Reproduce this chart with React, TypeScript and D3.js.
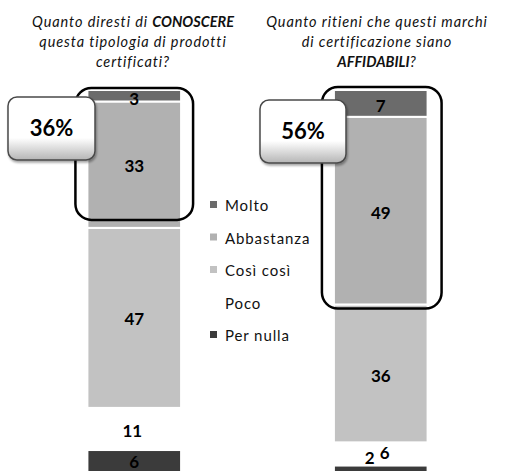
import React from "react";
import * as d3 from "d3";

const categories = ["Conoscenza", "Affidabilità"];
const seriesNames = ["Molto", "Abbastanza", "Così così", "Poco", "Per nulla"];
const molto = [3, 7];
const abbastanza = [33, 49];
const cosiCosi = [47, 36];
const poco = [11, 6];
const perNulla = [6, 2];
const highlightPct = ["36%", "56%"];
const titlesLeft = [
  [{ t: "Quanto diresti di ", b: false }, { t: "CONOSCERE", b: true }],
  [{ t: "questa tipologia di prodotti", b: false }],
  [{ t: "certificati?", b: false }],
];
const titlesRight = [
  [{ t: "Quanto ritieni che questi marchi", b: false }],
  [{ t: "di certificazione siano", b: false }],
  [{ t: "AFFIDABILI", b: true }, { t: "?", b: false }],
];

const colors: Record<string, string> = {
  Molto: "#6b6b6b",
  Abbastanza: "#b1b1b1",
  "Così così": "#c2c2c2",
  Poco: "#ffffff",
  "Per nulla": "#3b3b3b",
};

const W = 517;
const H = 471;
const FONT = "Lato, 'Open Sans', sans-serif";

export default function App() {
  const valuesBySeries: Record<string, number[]> = {
    Molto: molto,
    Abbastanza: abbastanza,
    "Così così": cosiCosi,
    Poco: poco,
    "Per nulla": perNulla,
  };
  const rows = categories.map((c, i) => {
    const r: any = { cat: c };
    seriesNames.forEach((s) => (r[s] = valuesBySeries[s][i]));
    return r;
  });
  const stackOrder = [...seriesNames].reverse(); // bottom first
  const stack = d3.stack<any>().keys(stackOrder)(rows);

  const x = d3
    .scaleBand<string>()
    .domain(categories)
    .range([11, 504])
    .paddingInner(0.62)
    .paddingOuter(0.31);
  const y = d3.scaleLinear().domain([0, 100]).range([473, 90]);
  const bw = x.bandwidth();

  // label offsets for collisions (right bar bottom)
  const labelDx: Record<string, number[]> = {
    Molto: [0, 0],
    Abbastanza: [0, 0],
    "Così così": [0, 0],
    Poco: [-2, 4],
    "Per nulla": [0, -11],
  };
  const labelDy: Record<string, number[]> = {
    Molto: [3, 3],
    Abbastanza: [1, 2],
    "Così così": [1, 3],
    Poco: [2, -1],
    "Per nulla": [1, -11],
  };

  // highlight boxes
  const hl = [
    { x0: x(categories[0])! - 12, x1: x(categories[0])! + bw + 12, y0: y(100) - 2, y1: y(64) - 8 },
    { x0: x(categories[1])! - 12, x1: x(categories[1])! + bw + 14, y0: y(100) - 3, y1: y(44) + 4 },
  ];
  const pctBoxes = [
    { x: 8, y: 97, w: 87, h: 63 },
    { x: 260, y: 100, w: 86, h: 63 },
  ];

  const legendX = 210;
  const legendY0 = 206;
  const legendStep = 32.5;

  const titleCenters = [133, 377];
  const titleBaselines = [27, 47, 67];

  return (
    <svg width={W} height={H} style={{ position: "absolute", left: 0, top: 0 }} fontFamily={FONT}>
      <defs>
        <linearGradient id="pctGrad" x1="0" y1="0" x2="0" y2="1">
          <stop offset="0" stopColor="#ffffff" />
          <stop offset="0.65" stopColor="#ffffff" />
          <stop offset="1" stopColor="#b5b5b5" />
        </linearGradient>
        <filter id="shadow" x="-20%" y="-20%" width="140%" height="150%">
          <feDropShadow dx="1" dy="2" stdDeviation="1.2" floodColor="#000" floodOpacity="0.35" />
        </filter>
      </defs>
      <rect width={W} height={H} fill="#fff" />

      {/* titles */}
      {[titlesLeft, titlesRight].map((lines, ti) =>
        lines.map((parts, li) => (
          <text
            key={`t${ti}-${li}`}
            x={titleCenters[ti]}
            y={titleBaselines[li]}
            textAnchor="middle"
            fontStyle="italic"
            fontSize={14.5}
            fill="#111"
          >
            {parts.map((p, pi) => (
              <tspan key={pi} fontWeight={p.b ? "bold" : "normal"} letterSpacing={p.b ? 0 : 0.9}>
                {p.t}
              </tspan>
            ))}
          </text>
        ))
      )}

      {/* bars */}
      {stack.map((layer) =>
        layer.map((d, i) => (
          <rect
            key={`${layer.key}-${i}`}
            x={x(categories[i])}
            y={y(d[1])}
            width={bw}
            height={Math.max(0, y(d[0]) - y(d[1]))}
            fill={colors[layer.key]}
            stroke="#ffffff"
            strokeWidth={2}
          />
        ))
      )}

      {/* highlight boxes */}
      {hl.map((b, i) => (
        <rect
          key={`hl${i}`}
          x={b.x0}
          y={b.y0}
          width={b.x1 - b.x0}
          height={b.y1 - b.y0}
          rx={16}
          fill="none"
          stroke="#000"
          strokeWidth={2.5}
        />
      ))}

      {/* value labels */}
      {stack.map((layer) =>
        layer.map((d, i) => (
          <text
            key={`l-${layer.key}-${i}`}
            x={x(categories[i])! + bw / 2 + labelDx[layer.key][i]}
            y={(y(d[0]) + y(d[1])) / 2 + labelDy[layer.key][i]}
            dy="0.35em"
            textAnchor="middle"
            fontWeight="bold"
            fontSize={17}
            fill="#000"
          >
            {d.data[layer.key]}
          </text>
        ))
      )}

      {/* percentage boxes */}
      {pctBoxes.map((b, i) => (
        <g key={`p${i}`}>
          <rect
            x={b.x}
            y={b.y}
            width={b.w}
            height={b.h}
            rx={9}
            fill="url(#pctGrad)"
            stroke="#4a4a4a"
            strokeWidth={1.5}
            filter="url(#shadow)"
          />
          <text
            x={b.x + b.w / 2}
            y={b.y + b.h / 2}
            dy="0.36em"
            textAnchor="middle"
            fontWeight="bold"
            fontSize={22}
            fill="#000"
          >
            {highlightPct[i]}
          </text>
        </g>
      ))}

      {/* legend */}
      {seriesNames.map((s, i) => (
        <g key={`lg${i}`} transform={`translate(${legendX},${legendY0 + i * legendStep})`}>
          {s !== "Poco" && <rect x={0} y={-5} width={7} height={7} fill={colors[s]} />}
          <text x={15} y={0} dy="0.35em" fontSize={15} letterSpacing={0.9} fill="#111">
            {s}
          </text>
        </g>
      ))}
    </svg>
  );
}
